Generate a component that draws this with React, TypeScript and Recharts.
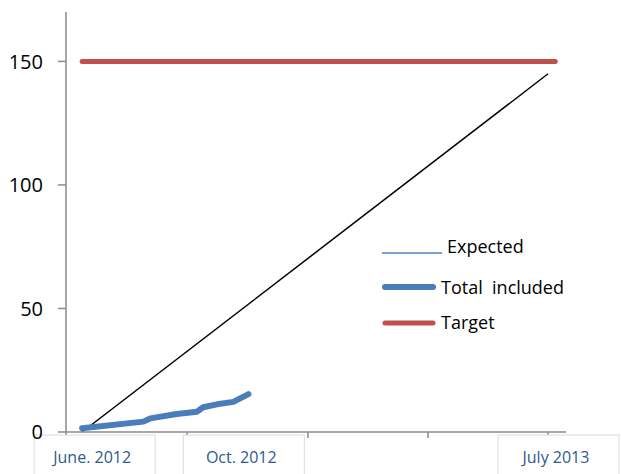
import React from 'react';
import { LineChart, Line, XAxis, YAxis, Legend } from 'recharts';

// months since June 2012
const totalMonths = [0, 1.71, 1.9, 2.64, 3.2, 3.38, 3.76, 4.22, 4.64];
const totalValues = [1.5, 4.2, 5.5, 7.3, 8.2, 10, 11.2, 12.2, 15.3];
const expectedMonths = [0, 13];
const expectedValues = [0, 145];
const targetMonths = [0, 13.2];
const targetValues = [150, 150];
const yTicks = [0, 50, 100, 150];
const xTickMarks = [-0.45, 2.93, 6.3, 9.65, 13];
const xLabels = ['June. 2012', 'Oct. 2012', 'July 2013'];
const xLabelPos = [0.28, 4.44, 13.22];

const toRows = (xs: number[], ys: number[]) => xs.map((x, i) => ({ x, y: ys[i] }));
const totalData = toRows(totalMonths, totalValues);
const expectedData = toRows(expectedMonths, expectedValues);
const targetData = toRows(targetMonths, targetValues);
const allTicks = [...xTickMarks, ...xLabelPos].sort((a, b) => a - b);

const FONT = '"Open Sans", sans-serif';
const AXIS = '#8a8a8a';

const XTick = (props: any) => {
  const { x, y, payload } = props;
  const li = xLabelPos.indexOf(payload.value);
  if (li >= 0) {
    return (
      <g>
        <rect x={x - 58} y={y + 3} width={121} height={60} fill="#fff" stroke="#dadada" strokeWidth={1} />
        <text x={x} y={y + 31} textAnchor="middle" fontSize={16} fontFamily={FONT} fill="#2E5A8C">
          {xLabels[li]}
        </text>
      </g>
    );
  }
  return <line x1={x} x2={x} y1={y} y2={y + 6} stroke={AXIS} strokeWidth={1.5} />;
};

const legendItems = [
  { name: 'Expected', color: '#4F81BD', width: 1.5, x1: 2, x2: 62, ly: 23, tx: 67, ty: 16 },
  { name: 'Total  included', color: '#4A7EBB', width: 6, x1: 5, x2: 53, ly: 57, tx: 61, ty: 57 },
  { name: 'Target', color: '#C0504D', width: 5, x1: 5, x2: 53, ly: 93, tx: 61, ty: 92 },
];

const LegendContent = () => (
  <svg width={210} height={110} style={{ display: 'block' }}>
    {legendItems.map((it) => (
      <g key={it.name}>
        <line x1={it.x1} x2={it.x2} y1={it.ly} y2={it.ly} stroke={it.color} strokeWidth={it.width}
          strokeLinecap={it.width > 2 ? 'round' : 'butt'} />
        <text x={it.tx} y={it.ty} dominantBaseline="central" fontSize={18} fontFamily={FONT} fill="#000"
          xmlSpace="preserve" style={{ whiteSpace: 'pre' }}>
          {it.name}
        </text>
      </g>
    ))}
  </svg>
);

export default function App() {
  return (
    <div style={{ position: 'absolute', left: 0, top: 0, width: 621, height: 474, background: '#fff' }}>
      <LineChart width={621} height={474} margin={{ top: 12, right: 55, left: 0, bottom: 0 }}>
        <XAxis type="number" dataKey="x" domain={[-0.45, 13.5]} allowDataOverflow
          ticks={allTicks} tick={<XTick />} tickLine={false} tickSize={0} tickMargin={0} interval={0} height={42}
          axisLine={{ stroke: AXIS, strokeWidth: 1.5 }} />
        <YAxis type="number" domain={[0, 170]} ticks={yTicks} width={66} tickSize={8} tickMargin={15}
          axisLine={{ stroke: AXIS, strokeWidth: 1.5 }} tickLine={{ stroke: AXIS, strokeWidth: 1.5 }}
          tick={{ fontSize: 20, fill: '#000', fontFamily: FONT }} />
        <Line data={expectedData} dataKey="y" name="Expected" stroke="#000" strokeWidth={1.5}
          dot={false} isAnimationActive={false} />
        <Line data={totalData} dataKey="y" name="Total  included" stroke="#4A7EBB" strokeWidth={6}
          strokeLinecap="round" strokeLinejoin="round" dot={false} isAnimationActive={false} />
        <Line data={targetData} dataKey="y" name="Target" stroke="#C0504D" strokeWidth={5}
          strokeLinecap="round" dot={false} isAnimationActive={false} />
        <Legend layout="vertical" align="center" verticalAlign="middle" content={<LegendContent />}
          wrapperStyle={{ left: 380, top: 230, width: 210, height: 110 }} />
      </LineChart>
    </div>
  );
}
